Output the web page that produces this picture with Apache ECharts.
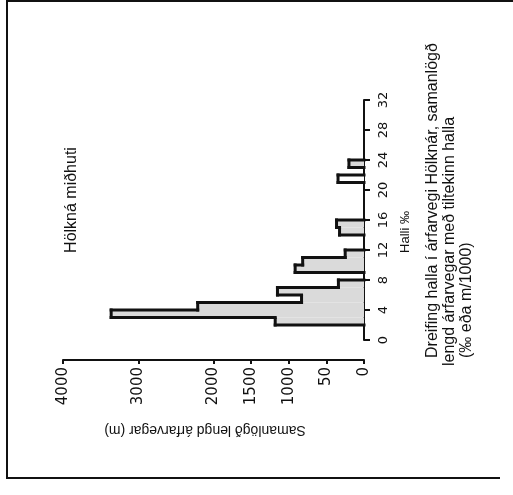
<!DOCTYPE html>
<html>
<head>
<meta charset="utf-8">
<script src="https://cdn.jsdelivr.net/npm/echarts@6.0.0/dist/echarts.min.js"></script>
<style>
  html, body { margin: 0; padding: 0; background: #fff; }
  #chart { width: 513px; height: 495px; }
</style>
</head>
<body>
<div id="chart"></div>
<script>
// histogram bins (slope in ‰, 1‰ wide) that have any length; the rest are empty
var slopeFrom = [2, 3, 4, 5, 6, 7, 9, 10, 11, 14, 15, 21, 23]
var lengthM = [1180, 3360, 2210, 830, 1150, 340, 915, 815, 250, 325, 365, 345, 200]
var binWidth = 1

var slopeTicks = [0, 4, 8, 12, 16, 20, 24, 28, 32]
var lengthTicks = [0, 500, 1000, 1500, 2000, 3000, 4000]
var lengthTickLabels = ['0', '50', '1000', '1500', '2000', '3000', '4000']

var titleText = 'Hölkná miðhuti'
var slopeName = 'Halli ‰'
var lengthName = 'Samanlögð lengd árfarvegar (m)'
var captionLines = [
  'Dreifing halla í árfarvegi Hölknár, samanlögð',
  'lengd árfarvegar með tiltekinn halla',
  '(‰ eða m/1000)'
]

var hollowBins = [21]
var ink = '#111'
var shade = '#dadada'

var lookup = {}
slopeFrom.forEach(function(s, i) { lookup[s] = lengthM[i] })

var chart = echarts.init(document.getElementById('chart'))

function renderBin(params, api) {
  var s = api.value(0)
  var v = api.value(1)
  var prev = lookup[s - binWidth] || 0
  var next = lookup[s + binWidth] || 0
  var lo = api.coord([0, s])
  var hi = api.coord([v, s + binWidth])
  var xPrev = api.coord([prev, s])[0]
  var line = { stroke: ink, lineWidth: 3, lineCap: 'square' }
  var children = [
    {
      type: 'rect',
      shape: { x: hi[0], y: hi[1], width: lo[0] - hi[0], height: lo[1] - hi[1] },
      style: { fill: hollowBins.indexOf(s) >= 0 ? '#fff' : shade }
    },
    {
      type: 'line',
      shape: { x1: hi[0], y1: lo[1], x2: hi[0], y2: hi[1] },
      style: line
    }
  ]
  if (prev !== v) {
    children.push({
      type: 'line',
      shape: { x1: xPrev, y1: lo[1], x2: hi[0], y2: lo[1] },
      style: line
    })
  }
  if (!next) {
    children.push({
      type: 'line',
      shape: { x1: lo[0], y1: hi[1], x2: hi[0], y2: hi[1] },
      style: line
    })
  }
  return { type: 'group', children: children }
}

var labelFont = 'DejaVu Sans'
var textFont = 'Liberation Sans'

function rotatedText(x, y, angle, text, size, align) {
  return {
    type: 'text', x: x, y: y, rotation: angle,
    style: { text: text, font: size + 'px ' + textFont, fill: ink, textAlign: align, textVerticalAlign: 'middle' }
  }
}

chart.setOption({
  animation: false,
  backgroundColor: '#fff',
  grid: { left: 63, right: 149, top: 100, bottom: 155 },
  xAxis: {
    type: 'value',
    inverse: true,
    min: 0,
    max: 4000,
    offset: 20,
    splitLine: { show: false },
    axisLine: { show: true, onZero: false, lineStyle: { color: ink, width: 2 } },
    axisTick: { show: true, customValues: lengthTicks, length: 4, lineStyle: { color: ink, width: 2 } },
    axisLabel: {
      rotate: 90,
      margin: 7,
      customValues: lengthTicks,
      color: ink,
      fontFamily: labelFont,
      fontSize: 15,
      formatter: function(val) {
        return lengthTickLabels[lengthTicks.indexOf(val)]
      }
    }
  },
  yAxis: {
    type: 'value',
    position: 'right',
    min: 0,
    max: 32,
    interval: 4,
    splitLine: { show: false },
    axisLine: { show: true, onZero: false, lineStyle: { color: ink, width: 2 } },
    axisTick: { show: true, length: 6, lineStyle: { color: ink, width: 2 } },
    axisLabel: {
      rotate: 90,
      margin: 13,
      color: ink,
      fontFamily: labelFont,
      fontSize: 13,
      formatter: function(val) {
        return slopeTicks.indexOf(val) >= 0 ? String(val) : ''
      }
    }
  },
  graphic: [
    { type: 'polyline', shape: { points: [[513, 1], [7, 1], [7, 478], [500, 478]] }, style: { stroke: ink, lineWidth: 2, fill: null } },
    rotatedText(72, 200, Math.PI / 2, titleText, 16, 'center'),
    rotatedText(405, 232, Math.PI / 2, slopeName, 13, 'center'),
    rotatedText(205, 430, Math.PI, lengthName, 14, 'center'),
    rotatedText(433, 358, Math.PI / 2, captionLines[0], 16, 'left'),
    rotatedText(450, 366, Math.PI / 2, captionLines[1], 16, 'left'),
    rotatedText(467, 358, Math.PI / 2, captionLines[2], 16, 'left')
  ],
  series: [
    {
      type: 'custom',
      renderItem: renderBin,
      data: slopeFrom.map(function(s, i) { return [s, lengthM[i]] })
    }
  ]
})
</script>
</body>
</html>
